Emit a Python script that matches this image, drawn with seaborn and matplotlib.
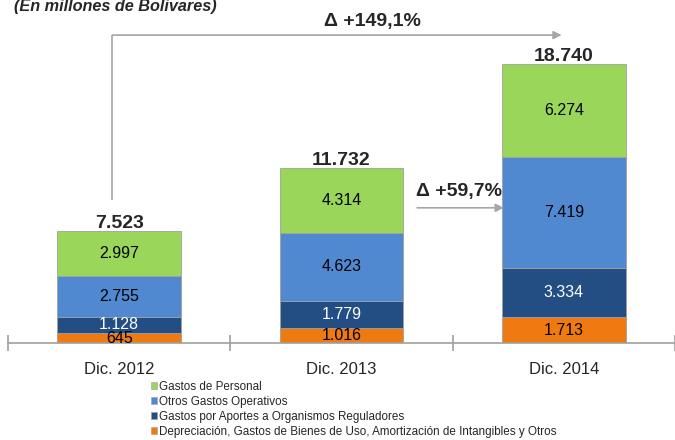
import matplotlib.pyplot as plt
import seaborn as sns
import numpy as np
from matplotlib.patches import Patch

# Datos (en millones de Bolivares)
periodos = ["Dic. 2012", "Dic. 2013", "Dic. 2014"]
depreciacion = [645, 1016, 1713]
aportes = [1128, 1779, 3334]
otros_operativos = [2755, 4623, 7419]
personal = [2997, 4314, 6274]
totales = ["7.523", "11.732", "18.740"]
variaciones = ["Δ +149,1%", "Δ +59,7%"]

series = [
    ("Depreciación, Gastos de Bienes de Uso, Amortización de Intangibles y Otros", depreciacion, "#F07A12", "black"),
    ("Gastos por Aportes a Organismos Reguladores", aportes, "#234E84", "white"),
    ("Otros Gastos Operativos", otros_operativos, "#5189D0", "black"),
    ("Gastos de Personal", personal, "#99D65A", "black"),
]

def fmt(v):
    return f"{v:,}".replace(",", ".")

sns.set_style("white")
plt.rcParams["font.family"] = ["Liberation Sans", "DejaVu Sans"]

fig = plt.figure(figsize=(6.75, 4.4), dpi=100)
ax = fig.add_axes([8 / 675, 97 / 440, 667 / 675, 343 / 440])

bottom = np.zeros(len(periodos))
for nombre, vals, color, tcolor in series:
    sns.barplot(x=periodos, y=vals, bottom=bottom, color=color, saturation=1,
                width=0.555, edgecolor="#a0a0a0", linewidth=0.6, ax=ax)
    for i, v in enumerate(vals):
        ax.text(i, bottom[i] + v / 2, fmt(v), ha="center", va="center",
                fontsize=11.5, color=tcolor)
    bottom = bottom + np.array(vals)

for i, t in enumerate(totales):
    ax.text(i, bottom[i] - 60, t, ha="center", va="bottom",
            fontsize=14, fontweight="bold")

ax.set_xlim(-0.5, 2.465)
ax.set_ylim(0, 23036)
ax.set_yticks([])
for s in ["top", "right", "left"]:
    ax.spines[s].set_visible(False)
ax.spines["bottom"].set_color("#a0a0a0")
ax.spines["bottom"].set_linewidth(1.2)
ax.set_xticks([0, 1, 2])
ax.set_xticklabels(periodos, fontsize=12)
ax.tick_params(axis="x", which="major", length=0, pad=14)
ax.set_xticks([-0.5, 0.5, 1.5, 2.5], minor=True)
ax.tick_params(axis="x", which="minor", bottom=True, length=12, direction="inout",
               color="#a0a0a0", width=1.2)
ax.set_xlabel("")

# flechas de variacion
gris = "#a6a6a6"
ax.annotate("", xy=(1.99, 20680), xytext=(-0.03, 20680),
            arrowprops=dict(arrowstyle="-|>", color=gris, lw=1.2,
                            mutation_scale=12, shrinkA=0, shrinkB=0))
ax.plot([-0.03, -0.03], [9600, 20680], color=gris, lw=1.2, solid_capstyle="butt")
ax.text(1.14, 21600, variaciones[0], ha="center", va="center",
        fontsize=14, fontweight="bold")
ax.annotate("", xy=(1.73, 9080), xytext=(1.34, 9080),
            arrowprops=dict(arrowstyle="-|>", color=gris, lw=1.2,
                            mutation_scale=12, shrinkA=0, shrinkB=0))
ax.text(1.335, 10150, variaciones[1], ha="left", va="center",
        fontsize=14, fontweight="bold")

fig.text(14 / 675, 1 - 7 / 440, "(En millones de Bolivares)", ha="left", va="center",
         fontsize=11.7, fontweight="bold", fontstyle="italic")

handles = [Patch(facecolor=c, edgecolor="#a0a0a0", linewidth=0.4, label=n)
           for n, _, c, _ in series[::-1]]
fig.legend(handles=handles, loc="upper left", bbox_to_anchor=(151 / 675, 1 - 381 / 440),
           frameon=False, fontsize=8.4, handlelength=0.55, handleheight=0.55,
           handletextpad=0.15, labelspacing=0.25, borderaxespad=0, borderpad=0)

fig.savefig("out.png", dpi=100)
